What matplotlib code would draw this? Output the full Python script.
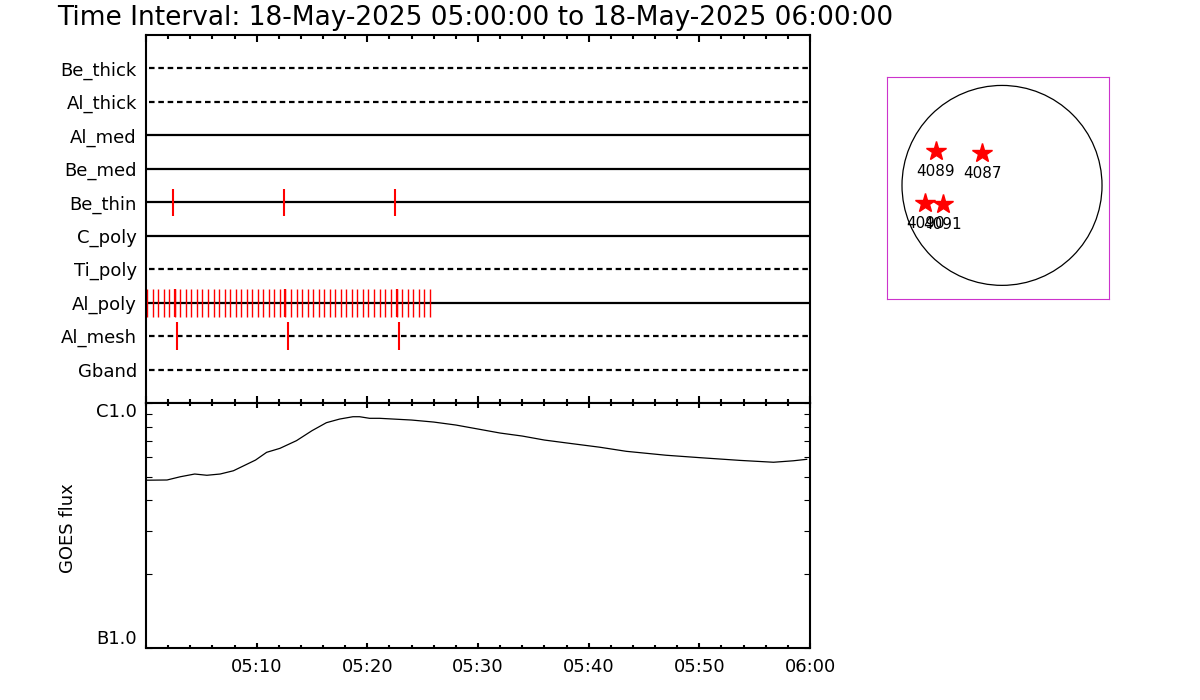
import matplotlib
matplotlib.use('Agg')
import matplotlib.pyplot as plt
from matplotlib.patches import Circle
from matplotlib.ticker import MultipleLocator, LogLocator, NullFormatter

# channel rows, top to bottom
channels = ['Be_thick', 'Al_thick', 'Al_med', 'Be_med', 'Be_thin',
            'C_poly', 'Ti_poly', 'Al_poly', 'Al_mesh', 'Gband']
dashed = [True, True, False, False, False, False, True, False, True, True]

# event times in minutes after 05:00
be_thin_times = [2.45, 12.47, 22.5]
al_mesh_times = [2.8, 12.83, 22.86]
al_poly_times = [0.1, 0.6, 1.1, 1.6, 2.1, 2.6, 3.1, 3.6, 4.1, 4.6,
                 5.1, 5.6, 6.1, 6.6, 7.1, 7.6, 8.1, 8.6, 9.1, 9.6,
                 10.1, 10.6, 11.1, 11.6, 12.1, 12.6, 13.1, 13.6, 14.1, 14.6,
                 15.1, 15.6, 16.1, 16.6, 17.1, 17.6, 18.1, 18.6, 19.1, 19.6,
                 20.1, 20.6, 21.1, 21.6, 22.1, 22.65, 23.15, 23.65, 24.15, 24.65,
                 25.15, 25.7]
al_poly_thick = [2.6, 12.6, 22.65]

# GOES flux (units of 1e-7 W/m^2) vs minutes after 05:00
goes_min = [0, 1.9, 3.1, 4.4, 5.5, 6.7, 7.9, 9.9, 10.9, 12.1, 13.6, 15.0,
            16.3, 17.5, 18.7, 19.3, 20.2, 21.1, 24, 26, 28, 30, 32, 34, 36,
            38, 41, 43.4, 47, 50.1, 53.7, 56.7, 58.5, 59.7]
goes_b = [4.84, 4.85, 5.00, 5.13, 5.07, 5.13, 5.29, 5.85, 6.29, 6.53, 7.02,
          7.71, 8.31, 8.60, 8.79, 8.79, 8.66, 8.66, 8.52, 8.36, 8.13, 7.83,
          7.54, 7.33, 7.06, 6.87, 6.60, 6.35, 6.12, 5.98, 5.83, 5.73, 5.81, 5.89]

xtick_pos = [10, 20, 30, 40, 50, 60]
xtick_labels = ['05:10', '05:20', '05:30', '05:40', '05:50', '06:00']

# active regions on the disc (arcsec)
ar_names = ['4089', '4087', '4090', '4091']
ar_x = [-636, -192, -735, -566]
ar_y = [326, 311, -169, -178]

title = 'Time Interval: 18-May-2025 05:00:00 to 18-May-2025 06:00:00'

fig = plt.figure(figsize=(12, 7), dpi=100)
fig.text(0.0475, 1 - 25 / 700, title, fontsize=19, va='baseline', ha='left')

# ---- top panel: channel events
ax = fig.add_axes([146 / 1200, 1 - 403 / 700, 664 / 1200, 368 / 700])
n = len(channels)
for i, name in enumerate(channels):
    y = n - i
    if dashed[i]:
        ax.plot([0.3, 59.8], [y, y], color='black', lw=1.6, ls=(0, (2.5, 1.7)))
    else:
        ax.plot([0, 59.8], [y, y], color='black', lw=1.6)
    if name == 'Be_thin':
        ax.vlines(be_thin_times, y - 0.4, y + 0.4, color='red', lw=1.5)
    elif name == 'Al_mesh':
        ax.vlines(al_mesh_times, y - 0.42, y + 0.42, color='red', lw=1.5)
    elif name == 'Al_poly':
        ax.vlines(al_poly_times, y - 0.42, y + 0.42, color='red', lw=1.0)
        ax.vlines(al_poly_thick, y - 0.42, y + 0.42, color='red', lw=1.6)

ax.set_xlim(0, 60)
ax.set_ylim(0, n + 1)
ax.set_yticks([n - i for i in range(n)])
ax.set_yticklabels(channels, fontsize=13)
ax.tick_params(axis='y', length=0, pad=6.5)
ax.xaxis.set_major_locator(MultipleLocator(10))
ax.xaxis.set_minor_locator(MultipleLocator(2))
ax.tick_params(axis='x', which='both', direction='in', top=True, bottom=True,
               labelbottom=False, width=1.5)
ax.tick_params(axis='x', which='major', length=5)
ax.tick_params(axis='x', which='minor', length=3)
for s in ax.spines.values():
    s.set_linewidth(1.5)

# ---- GOES panel
ax2 = fig.add_axes([146 / 1200, 1 - 648 / 700, 664 / 1200, 245 / 700])
ax2.plot(goes_min, [v * 1e-7 for v in goes_b], color='black', lw=0.9)
ax2.set_yscale('log')
ax2.set_ylim(1e-7, 1e-6)
ax2.set_xlim(0, 60)
ax2.set_yticks([1e-7, 1e-6])
ax2.set_yticklabels(['B1.0', 'C1.0'], fontsize=13)
ylabs = ax2.get_yticklabels()
ylabs[0].set_va('bottom')
ylabs[1].set_va('top')
ax2.yaxis.set_minor_locator(LogLocator(base=10, subs=[2, 3, 4, 5, 6, 7, 8, 9]))
ax2.yaxis.set_minor_formatter(NullFormatter())
ax2.tick_params(axis='y', which='both', direction='in', left=True, right=True,
                length=4.3, width=0.8, pad=6.5)
ax2.set_xticks(xtick_pos)
ax2.set_xticklabels(xtick_labels, fontsize=13)
ax2.xaxis.set_minor_locator(MultipleLocator(2))
ax2.tick_params(axis='x', which='both', direction='in', top=True, bottom=True,
                width=1.5, pad=7)
ax2.tick_params(axis='x', which='major', length=3.5)
ax2.tick_params(axis='x', which='minor', length=2)
for s in ax2.spines.values():
    s.set_linewidth(1.5)
fig.text(68 / 1200, 1 - 528 / 700, 'GOES flux', rotation=90, fontsize=13,
         ha='center', va='center')

# ---- solar disc
ax3 = fig.add_axes([887 / 1200, 1 - 299 / 700, 222 / 1200, 222 / 700])
ax3.add_patch(Circle((0, 0), 960, fill=False, lw=0.9, color='black'))
ax3.plot(ar_x, ar_y, ls='None', marker='*', ms=15, color='red', mec='red')
for name, x, y in zip(ar_names, ar_x, ar_y):
    ax3.annotate(name, (x, y), xytext=(0, -14.5), textcoords='offset points',
                 ha='center', va='center', fontsize=11)
ax3.set_xlim(-1104, 1027)
ax3.set_ylim(-1091, 1041)
ax3.set_xticks([])
ax3.set_yticks([])
for s in ax3.spines.values():
    s.set_color('#cc33cc')
    s.set_linewidth(0.8)

fig.savefig('out.png', dpi=100)
